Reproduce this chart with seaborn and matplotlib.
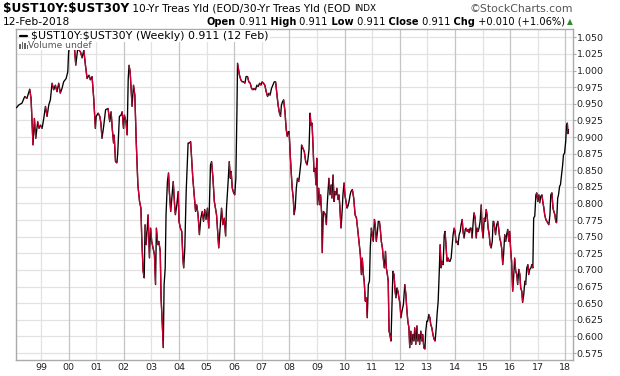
import numpy as np
import pandas as pd
import seaborn as sns
import matplotlib.pyplot as plt
from matplotlib.collections import LineCollection
from matplotlib.lines import Line2D
from matplotlib.patches import Rectangle

# $UST10Y:$UST30Y weekly ratio (decimal year, value)
yrs_a = [1998.11, 1998.19, 1998.31, 1998.41, 1998.49, 1998.59, 1998.64, 1998.71, 1998.76, 1998.81,
         1998.88, 1998.93, 1998.98, 1999.04, 1999.10, 1999.16, 1999.22, 1999.28, 1999.34, 1999.40,
         1999.46, 1999.52, 1999.58, 1999.64, 1999.70, 1999.76, 1999.82, 1999.91, 1999.97, 2000.00,
         2000.06, 2000.12, 2000.17, 2000.22, 2000.26, 2000.33, 2000.43, 2000.49, 2000.55, 2000.61,
         2000.67, 2000.74, 2000.79, 2000.85, 2000.91, 2000.97, 2001.00, 2001.07, 2001.13, 2001.17,
         2001.21, 2001.27, 2001.34, 2001.43, 2001.49, 2001.54, 2001.58, 2001.63]
val_a = [0.944, 0.948, 0.951, 0.961, 0.958, 0.972, 0.958, 0.888, 0.928, 0.898,
         0.923, 0.913, 0.918, 0.913, 0.928, 0.946, 0.931, 0.948, 0.956, 0.981,
         0.971, 0.978, 0.968, 0.981, 0.966, 0.973, 0.983, 0.988, 0.998, 1.028,
         1.040, 1.045, 1.040, 1.030, 1.008, 1.033, 1.028, 1.019, 1.031, 1.008,
         0.988, 0.993, 0.986, 0.991, 0.958, 0.913, 0.931, 0.936, 0.931, 0.921,
         0.898, 0.916, 0.941, 0.943, 0.923, 0.938, 0.913, 0.891]

yrs_b = [2001.65, 2001.70, 2001.75, 2001.78, 2001.84, 2001.90, 2001.94, 2001.99, 2002.02, 2002.08,
         2002.12, 2002.16, 2002.19, 2002.23, 2002.27, 2002.30, 2002.35, 2002.40, 2002.45, 2002.51,
         2002.57, 2002.62, 2002.65, 2002.70, 2002.74, 2002.77, 2002.81, 2002.85, 2002.88, 2002.93,
         2002.97, 2003.01, 2003.06, 2003.11, 2003.15, 2003.18, 2003.23, 2003.27, 2003.32, 2003.35,
         2003.39, 2003.43, 2003.46, 2003.50, 2003.53, 2003.58, 2003.62, 2003.65, 2003.70, 2003.75,
         2003.79, 2003.84, 2003.87, 2003.92, 2003.97, 2004.00, 2004.05, 2004.10, 2004.14, 2004.17,
         2004.21, 2004.26, 2004.29, 2004.33, 2004.38, 2004.42, 2004.45, 2004.50, 2004.55, 2004.60,
         2004.64, 2004.69, 2004.74, 2004.79, 2004.84, 2004.89, 2004.93, 2004.98, 2005.03, 2005.08]
val_b = [0.903, 0.863, 0.861, 0.876, 0.931, 0.933, 0.938, 0.913, 0.933, 0.923,
         0.903, 0.988, 1.008, 0.998, 0.968, 0.946, 0.978, 0.963, 0.893, 0.828,
         0.803, 0.793, 0.748, 0.698, 0.688, 0.768, 0.738, 0.763, 0.783, 0.718,
         0.763, 0.743, 0.733, 0.723, 0.678, 0.763, 0.738, 0.743, 0.728, 0.658,
         0.623, 0.583, 0.678, 0.703, 0.783, 0.833, 0.846, 0.818, 0.788, 0.813,
         0.833, 0.798, 0.783, 0.798, 0.818, 0.773, 0.763, 0.758, 0.718, 0.703,
         0.733, 0.818, 0.848, 0.891, 0.891, 0.893, 0.873, 0.838, 0.813, 0.788,
         0.798, 0.783, 0.753, 0.778, 0.788, 0.773, 0.791, 0.776, 0.793, 0.763]

yrs_c = [2005.14, 2005.18, 2005.23, 2005.28, 2005.32, 2005.36, 2005.40, 2005.44, 2005.49, 2005.54,
         2005.59, 2005.64, 2005.69, 2005.72, 2005.78, 2005.82, 2005.86, 2005.89, 2005.93, 2005.98,
         2006.02, 2006.06, 2006.10, 2006.12, 2006.14, 2006.19, 2006.24, 2006.29, 2006.34, 2006.39,
         2006.43, 2006.48, 2006.53, 2006.58, 2006.63, 2006.68, 2006.72, 2006.77, 2006.82, 2006.87,
         2006.92, 2006.97, 2007.01, 2007.06, 2007.11, 2007.16, 2007.21, 2007.26, 2007.30, 2007.35,
         2007.40, 2007.45, 2007.50, 2007.55, 2007.59, 2007.64, 2007.68, 2007.71, 2007.75, 2007.79,
         2007.84, 2007.88, 2007.92, 2007.96, 2007.99, 2008.03, 2008.07, 2008.10, 2008.14, 2008.17,
         2008.21, 2008.25, 2008.29, 2008.34, 2008.38, 2008.42, 2008.44, 2008.49, 2008.54]
val_c = [0.858, 0.863, 0.838, 0.803, 0.793, 0.783, 0.758, 0.733, 0.763, 0.793,
         0.768, 0.778, 0.751, 0.793, 0.833, 0.863, 0.838, 0.848, 0.823, 0.816,
         0.813, 0.838, 0.943, 1.011, 1.006, 0.993, 0.986, 0.983, 0.983, 0.981,
         0.991, 0.991, 0.983, 0.981, 0.973, 0.971, 0.973, 0.971, 0.978, 0.976,
         0.981, 0.978, 0.983, 0.981, 0.978, 0.968, 0.961, 0.966, 0.963, 0.973,
         0.978, 0.983, 0.983, 0.963, 0.948, 0.936, 0.931, 0.948, 0.953, 0.956,
         0.938, 0.913, 0.901, 0.908, 0.908, 0.873, 0.843, 0.823, 0.808, 0.783,
         0.793, 0.823, 0.838, 0.833, 0.848, 0.863, 0.888, 0.883, 0.878]

yrs_d = [2008.59, 2008.64, 2008.67, 2008.71, 2008.75, 2008.78, 2008.82, 2008.86, 2008.89, 2008.93,
         2008.96, 2008.99, 2009.02, 2009.06, 2009.10, 2009.13, 2009.17, 2009.19, 2009.23, 2009.27,
         2009.30, 2009.34, 2009.37, 2009.41, 2009.43, 2009.47, 2009.51, 2009.54, 2009.58, 2009.62,
         2009.65, 2009.69, 2009.72, 2009.76, 2009.80, 2009.83, 2009.87, 2009.91, 2009.94, 2009.98,
         2010.01, 2010.05, 2010.09, 2010.12, 2010.16, 2010.20, 2010.23, 2010.28, 2010.33, 2010.38,
         2010.43, 2010.47, 2010.52, 2010.57, 2010.61, 2010.64, 2010.68, 2010.71, 2010.75, 2010.79,
         2010.82, 2010.86, 2010.90, 2010.93, 2010.97, 2011.00, 2011.04, 2011.08, 2011.11, 2011.15,
         2011.19, 2011.22, 2011.26, 2011.29, 2011.33, 2011.37, 2011.40, 2011.44, 2011.48, 2011.51,
         2011.55, 2011.58, 2011.61, 2011.64, 2011.68, 2011.72, 2011.75, 2011.79, 2011.83, 2011.86,
         2011.90, 2011.93, 2011.97]
val_d = [0.863, 0.858, 0.866, 0.881, 0.936, 0.918, 0.921, 0.883, 0.848, 0.853,
         0.828, 0.868, 0.798, 0.823, 0.798, 0.813, 0.783, 0.726, 0.788, 0.786,
         0.783, 0.768, 0.798, 0.823, 0.838, 0.813, 0.828, 0.808, 0.843, 0.803,
         0.818, 0.813, 0.823, 0.806, 0.813, 0.793, 0.763, 0.788, 0.813, 0.831,
         0.813, 0.803, 0.793, 0.796, 0.803, 0.813, 0.818, 0.821, 0.808, 0.783,
         0.778, 0.763, 0.743, 0.723, 0.693, 0.718, 0.693, 0.683, 0.653, 0.658,
         0.628, 0.678, 0.683, 0.733, 0.763, 0.753, 0.743, 0.776, 0.768, 0.743,
         0.758, 0.773, 0.773, 0.763, 0.743, 0.733, 0.718, 0.703, 0.728, 0.703,
         0.693, 0.683, 0.608, 0.603, 0.593, 0.653, 0.698, 0.693, 0.668, 0.658,
         0.673, 0.668, 0.658]

yrs_e = [2012.01, 2012.04, 2012.08, 2012.13, 2012.18, 2012.22, 2012.25, 2012.29, 2012.33, 2012.36,
         2012.40, 2012.43, 2012.47, 2012.51, 2012.54, 2012.58, 2012.62, 2012.65, 2012.69, 2012.72,
         2012.76, 2012.80, 2012.83, 2012.87, 2012.91, 2012.94, 2012.98, 2013.01, 2013.05, 2013.09,
         2013.12, 2013.16, 2013.20, 2013.24, 2013.28, 2013.32, 2013.35, 2013.39, 2013.43, 2013.46,
         2013.50, 2013.53, 2013.57, 2013.61, 2013.64, 2013.68, 2013.71, 2013.75, 2013.79, 2013.82,
         2013.86, 2013.90, 2013.93, 2013.97, 2014.00, 2014.04, 2014.08, 2014.11, 2014.15, 2014.19,
         2014.22, 2014.26, 2014.29, 2014.33, 2014.37, 2014.40, 2014.44, 2014.48, 2014.51, 2014.55,
         2014.58, 2014.62, 2014.66, 2014.69, 2014.73, 2014.77, 2014.80, 2014.84, 2014.87, 2014.91,
         2014.95, 2014.98, 2015.02, 2015.06, 2015.09, 2015.13, 2015.16, 2015.20, 2015.24, 2015.27,
         2015.31, 2015.35, 2015.38]
val_e = [0.648, 0.628, 0.638, 0.648, 0.678, 0.663, 0.643, 0.623, 0.613, 0.583,
         0.608, 0.588, 0.603, 0.593, 0.613, 0.588, 0.616, 0.593, 0.603, 0.588,
         0.608, 0.593, 0.603, 0.583, 0.581, 0.608, 0.623, 0.623, 0.633, 0.628,
         0.618, 0.613, 0.603, 0.596, 0.593, 0.613, 0.633, 0.653, 0.698, 0.738,
         0.703, 0.713, 0.708, 0.753, 0.758, 0.733, 0.713, 0.718, 0.713, 0.713,
         0.718, 0.738, 0.753, 0.763, 0.758, 0.741, 0.743, 0.738, 0.753, 0.758,
         0.768, 0.776, 0.758, 0.748, 0.761, 0.763, 0.758, 0.761, 0.756, 0.763,
         0.763, 0.748, 0.773, 0.786, 0.778, 0.748, 0.763, 0.758, 0.763, 0.773,
         0.798, 0.763, 0.748, 0.778, 0.773, 0.791, 0.783, 0.763, 0.753, 0.738,
         0.733, 0.743, 0.773]

yrs_f = [2015.40, 2015.44, 2015.47, 2015.51, 2015.55, 2015.58, 2015.62, 2015.65, 2015.69, 2015.73,
         2015.76, 2015.80, 2015.84, 2015.87, 2015.91, 2015.95, 2015.98, 2016.02, 2016.05, 2016.09,
         2016.13, 2016.16, 2016.20, 2016.24, 2016.27, 2016.31, 2016.35, 2016.38, 2016.42, 2016.45,
         2016.49, 2016.53, 2016.56, 2016.60, 2016.64, 2016.67, 2016.71, 2016.75, 2016.78, 2016.82,
         2016.85, 2016.89, 2016.93, 2016.96, 2017.00, 2017.04, 2017.07, 2017.11, 2017.15, 2017.18,
         2017.22, 2017.25, 2017.29, 2017.33, 2017.36, 2017.40, 2017.44, 2017.47, 2017.51, 2017.55,
         2017.58, 2017.62, 2017.65, 2017.68, 2017.72, 2017.75, 2017.79, 2017.82, 2017.86, 2017.90,
         2017.93, 2017.97, 2018.01, 2018.04, 2018.07, 2018.09, 2018.11]
val_f = [0.773, 0.763, 0.753, 0.768, 0.773, 0.763, 0.748, 0.743, 0.733, 0.708,
         0.723, 0.753, 0.743, 0.753, 0.761, 0.743, 0.758, 0.728, 0.713, 0.668,
         0.693, 0.718, 0.698, 0.693, 0.678, 0.701, 0.693, 0.673, 0.668, 0.651,
         0.663, 0.683, 0.678, 0.703, 0.708, 0.693, 0.701, 0.703, 0.708, 0.703,
         0.778, 0.781, 0.813, 0.816, 0.803, 0.813, 0.801, 0.811, 0.813, 0.803,
         0.793, 0.783, 0.776, 0.773, 0.771, 0.768, 0.783, 0.813, 0.816, 0.793,
         0.788, 0.783, 0.773, 0.771, 0.808, 0.813, 0.826, 0.828, 0.843, 0.858,
         0.873, 0.876, 0.893, 0.918, 0.921, 0.905, 0.911]

tick_years = [1999, 2000, 2001, 2002, 2003, 2004, 2005, 2006, 2007, 2008,
              2009, 2010, 2011, 2012, 2013, 2014, 2015, 2016, 2017, 2018]
year_labels = ["99", "00", "01", "02", "03", "04", "05", "06", "07", "08",
               "09", "10", "11", "12", "13", "14", "15", "16", "17", "18"]
ratio_ticks = [0.575, 0.600, 0.625, 0.650, 0.675, 0.700, 0.725, 0.750, 0.775, 0.800,
               0.825, 0.850, 0.875, 0.900, 0.925, 0.950, 0.975, 1.000, 1.025, 1.050]

symbol = "$UST10Y:$UST30Y"
subtitle = " 10-Yr Treas Yld (EOD/30-Yr Treas Yld (EOD "
date_str = "12-Feb-2018"
quote = [("Open", True), (" 0.911", False), (" High", True), (" 0.911", False),
         (" Low", True), (" 0.911", False), (" Close", True), (" 0.911", False),
         (" Chg", True), (" +0.010 (+1.06%)", False)]

df = pd.DataFrame({"year": yrs_a + yrs_b + yrs_c + yrs_d + yrs_e + yrs_f,
                   "ratio": val_a + val_b + val_c + val_d + val_e + val_f})

sns.set_style("white")
plt.rcParams["font.family"] = ["DejaVu Sans"]

W, H = 620, 376
fig = plt.figure(figsize=(W / 100, H / 100), dpi=100)
fig.patch.set_facecolor("white")
ax = fig.add_axes([16 / W, 16 / H, 557 / W, 331 / H])

# up weeks black, down weeks red
sns.lineplot(data=df, x="year", y="ratio", color="black", linewidth=0.95, ax=ax, zorder=3)
pts = df[["year", "ratio"]].to_numpy()
segs = np.stack([pts[:-1], pts[1:]], axis=1)
down = np.diff(df["ratio"].to_numpy()) < 0
ax.add_collection(LineCollection(segs[down], colors="#cc0033", linewidths=0.95, zorder=4))

ax.set_xlim(1998.094, 2018.275)
ax.set_ylim(0.5645, 1.0625)
ax.set_xlabel("")
ax.set_ylabel("")

for yr in tick_years:
    ax.axvline(yr, color="#c4c4c4" if yr % 2 == 0 else "#e2e2e2", lw=0.9, zorder=1)
ax.set_yticks(ratio_ticks)
ax.set_yticklabels([f"{v:.3f}" for v in ratio_ticks])
ax.grid(axis="y", color="#e2e2e2", lw=0.9, zorder=1)
ax.set_axisbelow(True)
ax.yaxis.tick_right()
ax.set_xticks(tick_years)
ax.set_xticklabels(year_labels)
ax.tick_params(axis="y", length=2.2, width=0.8, color="#aaaaaa", pad=0.5, labelsize=6.8, labelcolor="#222222")
ax.tick_params(axis="x", length=0, pad=2, labelsize=6.8, labelcolor="#222222")
for s in ax.spines.values():
    s.set_visible(True)
    s.set_color("#aaaaaa")
    s.set_linewidth(1)

renderer = fig.canvas.get_renderer()


def put(x, y, s, size, bold=False, color="black", **kw):
    t = fig.text(x / W, 1 - y / H, s, fontsize=size, fontweight="bold" if bold else "normal",
                 color=color, va="center", parse_math=False, **kw)
    return t.get_window_extent(renderer).x1


# header
x = put(3, 8.5, symbol, 8.7, bold=True)
x = put(x, 8.5, subtitle, 7.6)
put(x, 8.8, "INDX", 6.4)
put(573, 8.5, "\u00a9StockCharts.com", 7.8, color="#555555", ha="right")
put(3, 22, date_str, 7.7)
x = 206.5
for s, b in quote:
    x = put(x, 22, s, 7.1, bold=b)
put(x + 2, 21.5, "\u25b2", 5.5, color="#2e8b2e")

# legend
box = dict(facecolor="white", edgecolor="none", pad=0.8)
fig.add_artist(Line2D([20 / W, 27 / W], [1 - 36 / H, 1 - 36 / H], color="black", lw=1.6))
put(31, 36, symbol + " (Weekly) 0.911 (12 Feb)", 7.9, bbox=box)
fig.add_artist(Rectangle((18 / W, 1 - 50 / H), 76 / W, 8 / H, facecolor="white", edgecolor="none", zorder=2.5))
for bx, bh in [(19, 5), (21.5, 7), (24, 6), (26.5, 4)]:
    fig.add_artist(Rectangle((bx / W, 1 - 49 / H), 1.6 / W, bh / H, facecolor="#666666", edgecolor="none", zorder=3))
put(28.5, 45.5, "Volume undef", 6.6, color="#555555")

fig.savefig("out.png", dpi=100, facecolor="white")
